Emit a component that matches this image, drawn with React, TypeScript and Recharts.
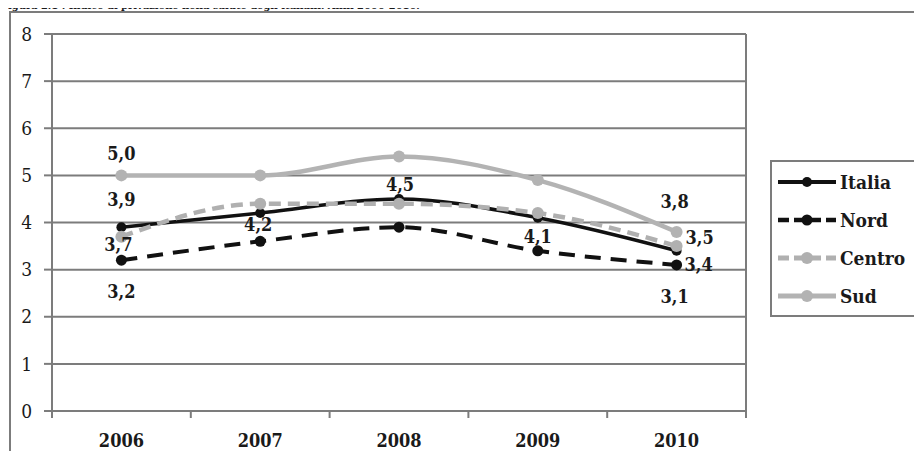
import React from 'react';
import { LineChart, Line, XAxis, YAxis, CartesianGrid, LabelList } from 'recharts';

const years = ['2006', '2007', '2008', '2009', '2010'];
const italia = [3.9, 4.2, 4.5, 4.1, 3.4];
const nord = [3.2, 3.6, 3.9, 3.4, 3.1];
const centro = [3.7, 4.4, 4.4, 4.2, 3.5];
const sud = [5.0, 5.0, 5.4, 4.9, 3.8];
const yTicks = [0, 1, 2, 3, 4, 5, 6, 7, 8];

const TITLE = 'Figura 2.1 : Indice di privazione nella salute degli italiani. Anni 2006-2010.';
const FONT = "'DejaVu Serif Condensed', 'DejaVu Serif', serif";
const GRID = '#7c7c7c';
const TEXT = '#1a1a1a';

const PLOT_LEFT = 52;
const PLOT_RIGHT = 746;
const STEP = (PLOT_RIGHT - PLOT_LEFT) / years.length;

const data = years.map((year, i) => ({
  year,
  Italia: italia[i],
  Nord: nord[i],
  Centro: centro[i],
  Sud: sud[i],
}));

// label placement per series (dx, dy from the point); null = no label
const labelOffsets: Record<string, (number[] | null)[]> = {
  Italia: [[0, -28], [-2, 11], [1, -14], [0, 19], [22, 14]],
  Nord: [[0, 31], null, null, null, [-2, 32]],
  Centro: [[-3, 8], null, null, null, [23, -9]],
  Sud: [[0, -22], null, null, null, [-2, -30]],
};

const series = [
  { key: 'Italia', color: '#111111', width: 3.5, dash: undefined, r: 5 },
  { key: 'Nord', color: '#111111', width: 4, dash: '16 10', r: 5.5 },
  { key: 'Centro', color: '#b0b0b0', width: 4.5, dash: '12 7', r: 6 },
  { key: 'Sud', color: '#b3b3b3', width: 4.5, dash: undefined, r: 6 },
];

const fmt = (v: number) => v.toFixed(1).replace('.', ',');

const makeLabel = (key: string) => (props: any) => {
  const { x, y, value, index } = props;
  const off = labelOffsets[key][index];
  if (!off) return null;
  return (
    <text
      x={x + off[0]}
      y={y + off[1]}
      textAnchor="middle"
      dominantBaseline="central"
      style={{ fontFamily: FONT }}
      fontWeight="bold"
      fontSize={18}
      fill={TEXT}
    >
      {fmt(value)}
    </text>
  );
};

const XTick = (props: any) => {
  const { x, y, payload, index, visibleTicksCount } = props;
  const axisY = y - 8;
  return (
    <g>
      <line x1={x - STEP / 2} x2={x - STEP / 2} y1={axisY} y2={axisY + 7} stroke={GRID} strokeWidth={2} />
      {index === visibleTicksCount - 1 && (
        <line x1={x + STEP / 2} x2={x + STEP / 2} y1={axisY} y2={axisY + 7} stroke={GRID} strokeWidth={2} />
      )}
      <text
        x={x}
        y={axisY + 29}
        textAnchor="middle"
        dominantBaseline="central"
        style={{ fontFamily: FONT }}
        fontWeight="bold"
        fontSize={18}
        fill={TEXT}
      >
        {payload.value}
      </text>
    </g>
  );
};

const LegendBox = () => (
  <div
    style={{
      position: 'absolute',
      left: 770,
      top: 160,
      width: 143,
      height: 152,
      border: `2px solid ${GRID}`,
      background: '#fff',
      paddingTop: 1,
      boxSizing: 'content-box',
    }}
  >
    {series.map((s) => (
      <div key={s.key} style={{ display: 'flex', alignItems: 'center', height: 38 }}>
        <svg width={60} height={16} style={{ marginLeft: 5 }}>
          <line
            x1={1}
            x2={59}
            y1={8}
            y2={8}
            stroke={s.color}
            strokeWidth={s.width + 0.5}
            strokeDasharray={s.dash ? '11 5' : undefined}
          />
          <circle cx={30} cy={8} r={s.r} fill={s.color} />
        </svg>
        <span style={{ fontFamily: FONT, fontWeight: 'bold', fontSize: 19, color: TEXT, marginLeft: 3 }}>
          {s.key}
        </span>
      </div>
    ))}
  </div>
);

export default function App() {
  return (
    <div
      style={{
        position: 'relative',
        width: 922,
        height: 459,
        margin: -8,
        overflow: 'hidden',
        background: '#fff',
      }}
    >
      <div
        style={{
          position: 'absolute',
          left: 9,
          top: 11,
          width: 1000,
          height: 1000,
          border: `2px solid ${GRID}`,
        }}
      />
      <div style={{ position: 'absolute', left: 0, top: 0 }}>
        <LineChart
          width={922}
          height={459}
          data={data}
          margin={{ top: 34, right: 922 - PLOT_RIGHT, bottom: 0, left: 0 }}
        >
          <CartesianGrid
            stroke={GRID}
            strokeWidth={2}
            verticalCoordinatesGenerator={({ offset }: any) => [offset.left + offset.width]}
          />
          <XAxis
            dataKey="year"
            height={48}
            padding={{ left: STEP / 2, right: STEP / 2 }}
            axisLine={{ stroke: GRID, strokeWidth: 2 }}
            tickLine={false}
            tick={<XTick />}
            interval={0}
          />
          <YAxis
            width={PLOT_LEFT}
            domain={[0, 8]}
            ticks={yTicks}
            axisLine={{ stroke: GRID, strokeWidth: 2 }}
            tickLine={{ stroke: GRID, strokeWidth: 2 }}
            tickSize={8}
            tickMargin={12}
            tick={{ fontSize: 19, fill: TEXT, style: { fontFamily: FONT } }}
          />
          {series.map((s) => (
            <Line
              key={s.key}
              type="monotone"
              dataKey={s.key}
              stroke={s.color}
              strokeWidth={s.width}
              strokeDasharray={s.dash}
              dot={{ r: s.r, fill: s.color, stroke: s.color, strokeWidth: 0 }}
              isAnimationActive={false}
            >
              <LabelList dataKey={s.key} content={makeLabel(s.key)} />
            </Line>
          ))}
        </LineChart>
      </div>
      <svg width={922} height={11} style={{ position: 'absolute', left: 0, top: 0, zIndex: 5 }}>
        <text
          x={1}
          y={9}
          style={{ fontFamily: FONT }}
          fontWeight="bold"
          fontSize={11}
          fill={TEXT}
        >
          {TITLE}
        </text>
      </svg>
      <LegendBox />
    </div>
  );
}
